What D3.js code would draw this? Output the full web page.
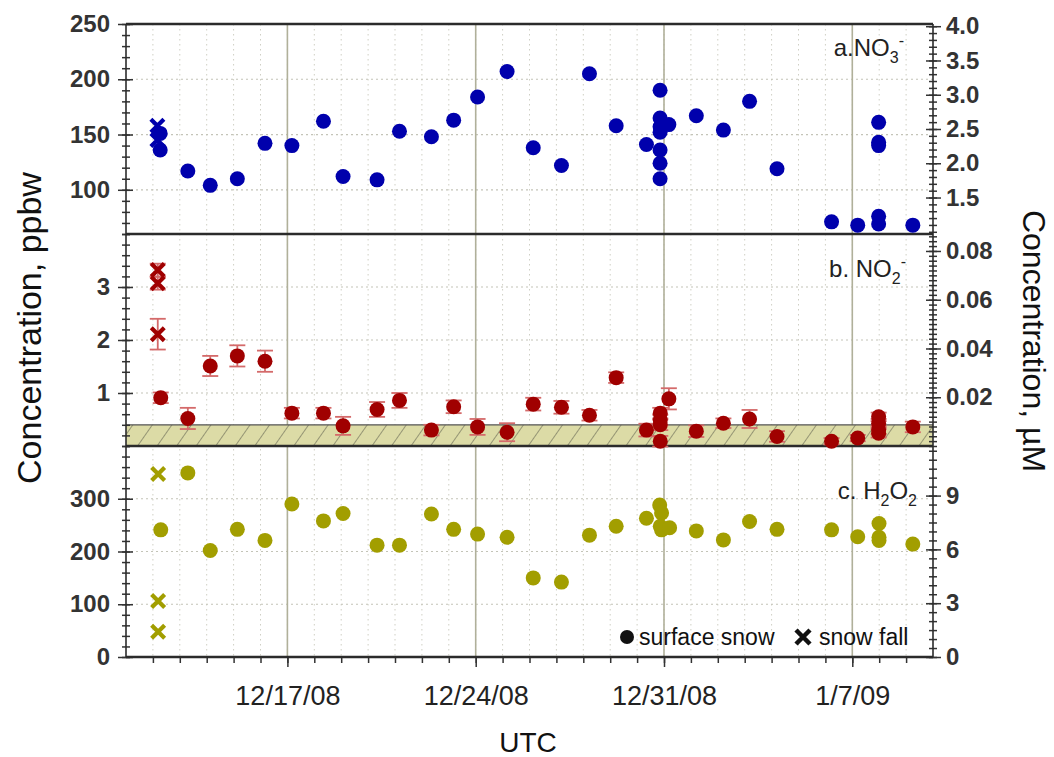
<!DOCTYPE html>
<html>
<head>
<meta charset="utf-8">
<script src="https://cdn.jsdelivr.net/npm/d3@7"></script>
<style>
  body { margin: 0; background: #fff; }
  text { font-family: "Liberation Sans", Arial, sans-serif; }
</style>
</head>
<body>
<svg id="chart" width="1054" height="757"></svg>
<script>
// ---- data: [sample time (UTC), value in ppbw] ----
const no3Surface = [
  ["2008-12-12 06:30", 151], ["2008-12-12 06:30", 136], ["2008-12-13 07:10", 117],
  ["2008-12-14 03:10", 104], ["2008-12-15 03:20", 110], ["2008-12-16 04:00", 142],
  ["2008-12-17 04:00", 140], ["2008-12-18 08:10", 162], ["2008-12-19 01:40", 112],
  ["2008-12-20 08:00", 109], ["2008-12-21 04:00", 153], ["2008-12-22 08:30", 148],
  ["2008-12-23 04:20", 163], ["2008-12-24 01:40", 184], ["2008-12-25 04:00", 207],
  ["2008-12-26 03:20", 138], ["2008-12-27 04:30", 122], ["2008-12-28 05:30", 205],
  ["2008-12-29 05:20", 158], ["2008-12-30 08:20", 141], ["2008-12-30 20:30", 190],
  ["2008-12-30 20:30", 165], ["2008-12-30 20:30", 157], ["2008-12-30 20:30", 152],
  ["2008-12-30 20:30", 136], ["2008-12-30 20:30", 124], ["2008-12-30 20:30", 110],
  ["2008-12-31 04:20", 159], ["2009-01-01 04:50", 167], ["2009-01-02 05:00", 154],
  ["2009-01-03 04:20", 180], ["2009-01-04 04:50", 119], ["2009-01-06 05:30", 71],
  ["2009-01-07 04:50", 68], ["2009-01-07 23:30", 161], ["2009-01-07 23:30", 143],
  ["2009-01-07 23:30", 140], ["2009-01-07 23:30", 76], ["2009-01-07 23:30", 69],
  ["2009-01-09 06:00", 68]
];
const no3Snowfall = [["2008-12-12 04:00", 158], ["2008-12-12 04:00", 145]];

// NO2-: [time, value, uncertainty]
const no2Surface = [
  ["2008-12-12 07:00", 0.91, 0.10], ["2008-12-13 07:10", 0.52, 0.20], ["2008-12-14 03:10", 1.51, 0.19],
  ["2008-12-15 03:20", 1.70, 0.20], ["2008-12-16 04:00", 1.60, 0.20], ["2008-12-17 04:00", 0.62, 0.10],
  ["2008-12-18 08:10", 0.62, 0.10], ["2008-12-19 01:40", 0.38, 0.17], ["2008-12-20 08:00", 0.69, 0.14],
  ["2008-12-21 04:00", 0.86, 0.14], ["2008-12-22 08:30", 0.30, 0.10], ["2008-12-23 04:20", 0.74, 0.12],
  ["2008-12-24 01:40", 0.36, 0.15], ["2008-12-25 04:00", 0.26, 0.17], ["2008-12-26 03:20", 0.79, 0.12],
  ["2008-12-27 04:30", 0.73, 0.12], ["2008-12-28 05:30", 0.58, 0.10], ["2008-12-29 05:20", 1.29, 0.10],
  ["2008-12-30 08:20", 0.30, 0.12], ["2008-12-30 20:40", 0.62, 0.10], ["2008-12-30 20:40", 0.49, 0.10],
  ["2008-12-30 20:40", 0.40, 0.10], ["2008-12-30 20:40", 0.09, 0.10], ["2008-12-31 04:20", 0.89, 0.20],
  ["2009-01-01 04:50", 0.28, 0.11], ["2009-01-02 05:00", 0.43, 0.09], ["2009-01-03 04:20", 0.51, 0.17],
  ["2009-01-04 04:50", 0.18, 0.10], ["2009-01-06 05:30", 0.09, 0.06], ["2009-01-07 04:50", 0.15, 0.06],
  ["2009-01-07 23:30", 0.55, 0.08], ["2009-01-07 23:30", 0.43, 0.08], ["2009-01-07 23:30", 0.30, 0.08],
  ["2009-01-07 23:30", 0.24, 0.08], ["2009-01-09 06:00", 0.36, 0.10]
];
const no2Snowfall = [
  ["2008-12-12 04:20", 3.32, 0.12], ["2008-12-12 04:20", 3.07, 0.12], ["2008-12-12 04:20", 2.11, 0.29]
];
const no2DetectionLimit = 0.4;

const h2o2Surface = [
  ["2008-12-12 07:00", 241], ["2008-12-13 07:10", 349], ["2008-12-14 03:10", 202],
  ["2008-12-15 03:20", 242], ["2008-12-16 04:00", 221], ["2008-12-17 04:00", 290],
  ["2008-12-18 08:10", 258], ["2008-12-19 01:40", 272], ["2008-12-20 08:00", 212],
  ["2008-12-21 04:00", 212], ["2008-12-22 08:30", 271], ["2008-12-23 04:20", 242],
  ["2008-12-24 01:40", 233], ["2008-12-25 04:00", 227], ["2008-12-26 03:20", 150],
  ["2008-12-27 04:30", 142], ["2008-12-28 05:30", 231], ["2008-12-29 05:20", 248],
  ["2008-12-30 08:20", 263], ["2008-12-30 20:10", 288], ["2008-12-30 21:50", 273],
  ["2008-12-30 20:40", 248], ["2008-12-30 21:50", 241], ["2008-12-31 05:00", 245],
  ["2009-01-01 04:50", 239], ["2009-01-02 05:00", 222], ["2009-01-03 04:20", 257],
  ["2009-01-04 04:50", 242], ["2009-01-06 05:30", 241], ["2009-01-07 04:50", 228],
  ["2009-01-07 23:50", 253], ["2009-01-07 23:50", 227], ["2009-01-07 23:50", 221],
  ["2009-01-09 06:00", 214]
];
const h2o2Snowfall = [["2008-12-12 04:40", 347], ["2008-12-12 04:40", 106], ["2008-12-12 04:40", 48]];

// molar masses used for the µM axes
const molarMass = { no3: 62, no2: 46, h2o2: 34 };

// axis ticks
const dateTicks = ["2008-12-17", "2008-12-24", "2008-12-31", "2009-01-07"];
const ticksA = [100, 150, 200, 250], ticksA2 = [1.5, 2.0, 2.5, 3.0, 3.5, 4.0];
const ticksB = [1, 2, 3], ticksB2 = [0.02, 0.04, 0.06, 0.08];
const ticksC = [0, 100, 200, 300], ticksC2 = [0, 3, 6, 9];

// ---- colours ----
const blue = "#0000ac", red = "#a00000", redBar = "#d46a6a", olive = "#a29e00";

const svg = d3.select("#chart");
const parse = d3.timeParse("%Y-%m-%d %H:%M");
const parseDay = d3.timeParse("%Y-%m-%d");

const L = 126, R = 933;
const x = d3.scaleTime()
  .domain([parseDay("2008-12-11"), parseDay("2009-01-10")])
  .range([L, R]);

const panels = {
  a: { top: 24, bottom: 234 },
  b: { top: 234, bottom: 446 },
  c: { top: 446, bottom: 657 }
};
const yA = d3.scaleLinear().domain([60, 250]).range([panels.a.bottom, panels.a.top]);
const yA2 = d3.scaleLinear().domain([60 / molarMass.no3, 250 / molarMass.no3]).range(yA.range());
const yB = d3.scaleLinear().domain([0, 4]).range([panels.b.bottom, panels.b.top]);
const yB2 = d3.scaleLinear().domain([0, 4 / molarMass.no2]).range(yB.range());
const yC = d3.scaleLinear().domain([0, 400]).range([panels.c.bottom, panels.c.top]);
const yC2 = d3.scaleLinear().domain([0, 400 / molarMass.h2o2]).range(yC.range());

const grid = svg.append("g");

// daily dotted verticals
const days = d3.timeDay.range(x.domain()[0], x.domain()[1]).slice(1);
grid.selectAll("line.day").data(days).join("line")
  .attr("x1", d => x(d)).attr("x2", d => x(d))
  .attr("y1", panels.a.top).attr("y2", panels.c.bottom)
  .attr("stroke", "#cfcfc4").attr("stroke-width", 1).attr("stroke-dasharray", "1.5,3.5");

// horizontal dotted gridlines at labelled ticks
function hGrid(scale, values) {
  grid.selectAll(null).data(values).join("line")
    .attr("x1", L).attr("x2", R)
    .attr("y1", d => scale(d)).attr("y2", d => scale(d))
    .attr("stroke", "#c4c4b8").attr("stroke-width", 1.2).attr("stroke-dasharray", "2,3");
}
hGrid(yA, [100, 150, 200]);
hGrid(yB, ticksB);
hGrid(yC, [100, 200, 300]);

// weekly solid verticals
const weekDates = dateTicks.map(parseDay);
grid.selectAll("line.week").data(weekDates).join("line")
  .attr("x1", d => x(d)).attr("x2", d => x(d))
  .attr("y1", panels.a.top).attr("y2", panels.c.bottom)
  .attr("stroke", "#b0b09a").attr("stroke-width", 1.6);

// detection-limit band in panel b
const defs = svg.append("defs");
const pat = defs.append("pattern").attr("id", "hatch")
  .attr("patternUnits", "userSpaceOnUse").attr("width", 16).attr("height", 16)
  .attr("patternTransform", "rotate(35)");
pat.append("rect").attr("width", 16).attr("height", 16).attr("fill", "#dcdba6");
pat.append("line").attr("x1", 0).attr("y1", 0).attr("x2", 0).attr("y2", 16)
  .attr("stroke", "#5a5a4a").attr("stroke-width", 1.1);
svg.append("rect")
  .attr("x", L).attr("width", R - L)
  .attr("y", yB(no2DetectionLimit)).attr("height", yB(0) - yB(no2DetectionLimit))
  .attr("fill", "url(#hatch)");
svg.append("line").attr("x1", L).attr("x2", R)
  .attr("y1", yB(no2DetectionLimit)).attr("y2", yB(no2DetectionLimit))
  .attr("stroke", "#555").attr("stroke-width", 1.2);

// ---- axes ----
const axisColor = "#333";
function styleAxis(g) {
  g.select(".domain").remove();
  g.selectAll(".tick line").attr("stroke", axisColor).attr("stroke-width", 1.5);
}
function crossTicks(xPos, scale, values, outer, inner, side) {
  const outAxis = side === "left" ? d3.axisLeft(scale) : d3.axisRight(scale);
  const inAxis = side === "left" ? d3.axisRight(scale) : d3.axisLeft(scale);
  svg.append("g").attr("transform", `translate(${xPos},0)`)
    .call(outAxis.tickValues(values).tickSize(outer).tickFormat("")).call(styleAxis);
  svg.append("g").attr("transform", `translate(${xPos},0)`)
    .call(inAxis.tickValues(values).tickSize(inner).tickFormat("")).call(styleAxis);
}
function labels(xPos, scale, values, side, fmt) {
  const ax = side === "left" ? d3.axisLeft(scale) : d3.axisRight(scale);
  const g = svg.append("g").attr("transform", `translate(${xPos},0)`)
    .call(ax.tickValues(values).tickSize(0).tickPadding(side === "left" ? 16 : 13).tickFormat(fmt));
  g.select(".domain").remove();
  g.selectAll("text").attr("font-size", 24).attr("font-weight", "bold").attr("fill", "#333")
    .attr("font-family", "'Liberation Sans', Arial, sans-serif");
}
function range(a, b, s) { return d3.range(Math.round(a / s), Math.round(b / s) + 1).map(i => +(i * s).toFixed(6)); }

// left axes
crossTicks(L, yA, range(60, 250, 10), 4, 4, "left");
crossTicks(L, yA, ticksA, 8, 7, "left");
labels(L, yA, ticksA, "left", d3.format("d"));
crossTicks(L, yB, range(0, 4, 0.2), 4, 4, "left");
crossTicks(L, yB, ticksB, 8, 7, "left");
labels(L, yB, ticksB, "left", d3.format("d"));
crossTicks(L, yC, range(0, 400, 20), 4, 4, "left");
crossTicks(L, yC, ticksC, 8, 7, "left");
labels(L, yC, ticksC, "left", d3.format("d"));

// right axes (µM)
crossTicks(R, yA2, range(1.0, 4.0, 0.1), 4, 4, "right");
crossTicks(R, yA2, ticksA2, 8, 7, "right");
labels(R, yA2, ticksA2, "right", d3.format(".1f"));
crossTicks(R, yB2, range(0, 0.086, 0.002), 4, 4, "right");
crossTicks(R, yB2, ticksB2, 8, 7, "right");
labels(R, yB2, ticksB2, "right", d3.format(".2f"));
crossTicks(R, yC2, range(0, 11.5, 0.5), 4, 4, "right");
crossTicks(R, yC2, ticksC2, 8, 7, "right");
labels(R, yC2, ticksC2, "right", d3.format("d"));

// bottom time axis
svg.append("g").attr("transform", `translate(0,${panels.c.bottom})`)
  .call(d3.axisBottom(x).tickValues(days).tickSize(6).tickFormat("")).call(styleAxis);
const xMajor = svg.append("g").attr("transform", `translate(0,${panels.c.bottom})`)
  .call(d3.axisBottom(x).tickValues(weekDates).tickSize(10).tickPadding(19)
    .tickFormat(d3.timeFormat("%-m/%-d/%y")));
xMajor.call(styleAxis);
xMajor.selectAll("text").attr("font-size", 27).attr("fill", "#222");

// frame
const frame = svg.append("g").attr("stroke", "#2b2b2b").attr("fill", "none");
[panels.a.top, panels.a.bottom, panels.b.bottom, panels.c.bottom].forEach(yy => {
  frame.append("line").attr("x1", L).attr("x2", R).attr("y1", yy).attr("y2", yy).attr("stroke-width", 2.4);
});
frame.append("line").attr("x1", L).attr("x2", L).attr("y1", panels.a.top).attr("y2", panels.c.bottom).attr("stroke-width", 1.6);
frame.append("line").attr("x1", R).attr("x2", R).attr("y1", panels.a.top).attr("y2", panels.c.bottom).attr("stroke-width", 1.6);

// ---- marks ----
const marks = svg.append("g");
function dots(data, yScale, color) {
  marks.append("g").selectAll("circle").data(data).join("circle")
    .attr("cx", d => x(parse(d[0]))).attr("cy", d => yScale(d[1]))
    .attr("r", 7.5).attr("fill", color);
}
const crossPath = s => `M${-s},${-s}L${s},${s}M${-s},${s}L${s},${-s}`;
function crosses(data, yScale, color) {
  marks.append("g").selectAll("path").data(data).join("path")
    .attr("transform", d => `translate(${x(parse(d[0]))},${yScale(d[1])})`)
    .attr("d", crossPath(6.5)).attr("stroke", color).attr("stroke-width", 4.2).attr("fill", "none");
}
function errorBars(data, yScale, color) {
  const g = marks.append("g").attr("stroke", color).attr("stroke-width", 1.8);
  data.forEach(d => {
    const cx = x(parse(d[0])), y1 = yScale(d[1] - d[2]), y2 = yScale(d[1] + d[2]);
    g.append("line").attr("x1", cx).attr("x2", cx).attr("y1", y1).attr("y2", y2);
    g.append("line").attr("x1", cx - 8).attr("x2", cx + 8).attr("y1", y1).attr("y2", y1);
    g.append("line").attr("x1", cx - 8).attr("x2", cx + 8).attr("y1", y2).attr("y2", y2);
  });
}

dots(no3Surface, yA, blue);
crosses(no3Snowfall, yA, blue);

errorBars(no2Surface, yB, redBar);
errorBars(no2Snowfall, yB, redBar);
dots(no2Surface, yB, red);
crosses(no2Snowfall, yB, red);

dots(h2o2Surface, yC, olive);
crosses(h2o2Snowfall, yC, olive);

// ---- panel names ----
function panelName(xEnd, yBase, parts) {
  const t = svg.append("text").attr("x", xEnd).attr("y", yBase).attr("text-anchor", "end")
    .attr("font-size", 24).attr("fill", "#222");
  let shift = 0;
  parts.forEach(([s, kind]) => {
    const target = kind === "sub" ? 7 : kind === "sup" ? -10 : 0;
    t.append("tspan").attr("dy", target - shift)
      .attr("font-size", kind ? 16 : 24).text(s);
    shift = target;
  });
}
panelName(904, 56, [["a.NO"], ["3", "sub"], ["-", "sup"]]);
panelName(906, 277, [["b. NO"], ["2", "sub"], ["-", "sup"]]);
panelName(917, 499, [["c. H"], ["2", "sub"], ["O"], ["2", "sub"]]);

// legend
const lg = svg.append("g");
lg.append("circle").attr("cx", 627).attr("cy", 637).attr("r", 7).attr("fill", "#111");
lg.append("text").attr("x", 639).attr("y", 645).attr("font-size", 23).attr("fill", "#111").text("surface snow");
lg.append("path").attr("transform", "translate(803,637)").attr("d", crossPath(7))
  .attr("stroke", "#111").attr("stroke-width", 4.5);
lg.append("text").attr("x", 819).attr("y", 645).attr("font-size", 23).attr("fill", "#111").text("snow fall");

// axis titles
svg.append("text").attr("transform", "translate(41,328) rotate(-90)")
  .attr("text-anchor", "middle").attr("font-size", 34).attr("fill", "#111")
  .text("Concentration, ppbw");
svg.append("text").attr("transform", "translate(1023,341) rotate(90)")
  .attr("text-anchor", "middle").attr("font-size", 32).attr("fill", "#111")
  .text("Concentration, µM");
svg.append("text").attr("x", 528).attr("y", 752).attr("text-anchor", "middle")
  .attr("font-size", 28).attr("fill", "#111").text("UTC");
</script>
</body>
</html>
